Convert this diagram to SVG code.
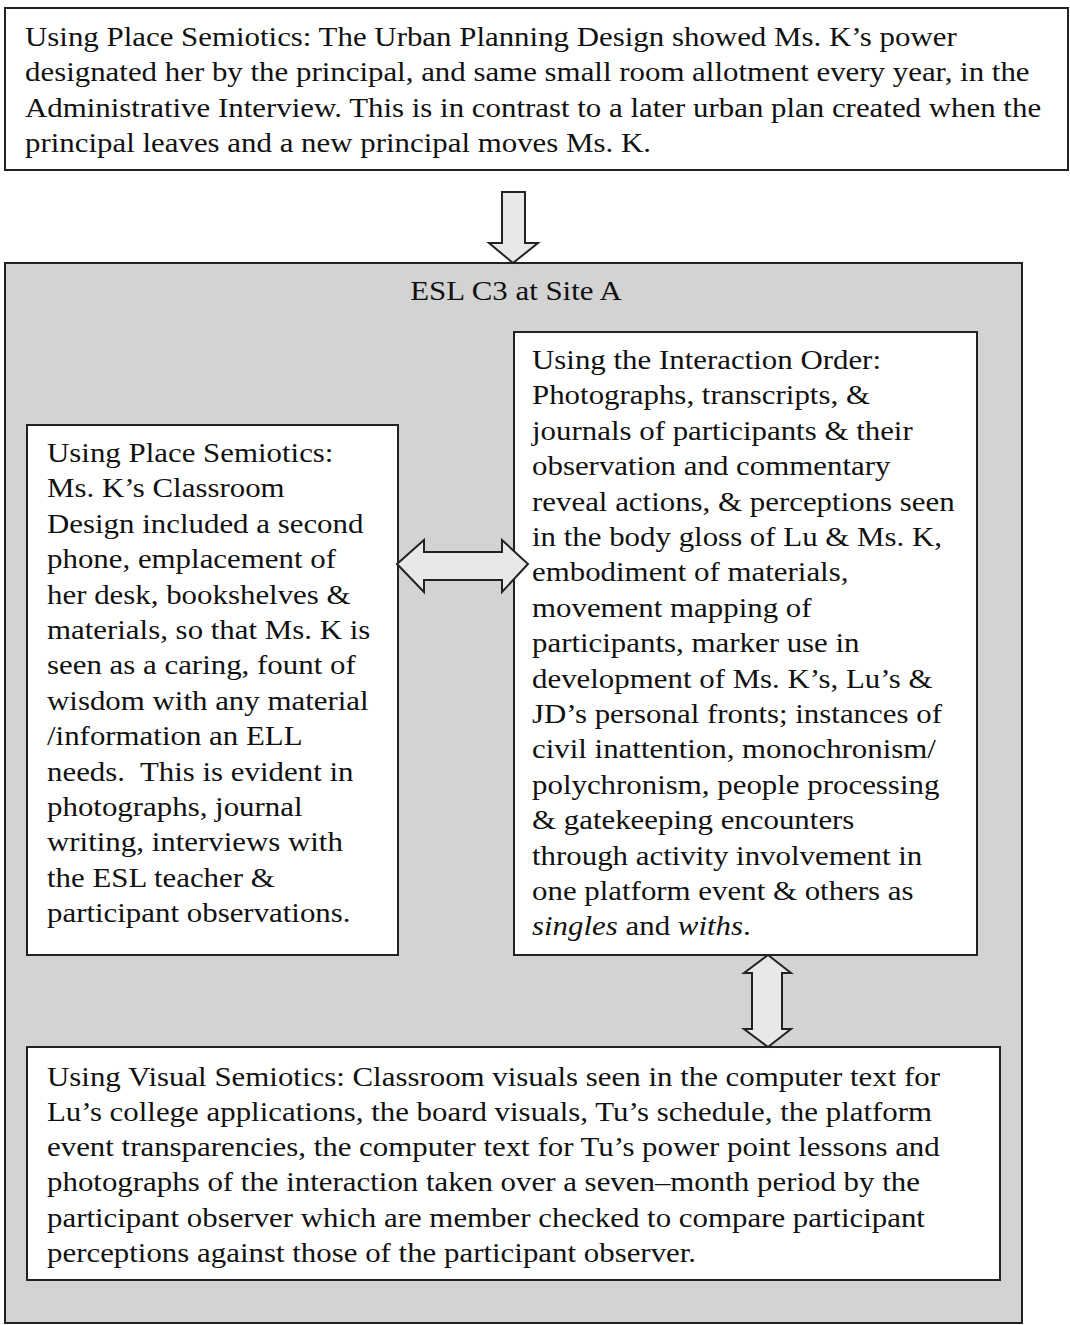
<svg xmlns="http://www.w3.org/2000/svg" width="1070" height="1325" viewBox="0 0 1070 1325">
<style>
.box{fill:#fff;stroke:#222;stroke-width:2}
.cont{fill:#d3d3d3;stroke:#222;stroke-width:2}
.arr{fill:#e8e8e8;stroke:#222;stroke-width:2;stroke-linejoin:miter}
text{font-family:"Liberation Serif","Times New Roman",serif;font-size:27px;fill:#111}
</style>
<rect width="1070" height="1325" fill="#fff"/>
<g id="top-box">
<rect class="box" x="5" y="8" width="1063" height="162"/>
<g transform="translate(25 0) scale(1.144 1)">
<text x="0" y="46">Using Place Semiotics: The Urban Planning Design showed Ms. K’s power</text>
<text x="0" y="81">designated her by the principal, and same small room allotment every year, in the</text>
<text x="0" y="117">Administrative Interview. This is in contrast to a later urban plan created when the</text>
<text x="0" y="152">principal leaves and a new principal moves Ms. K.</text>
</g>
</g>
<g id="container">
<rect class="cont" x="5" y="263" width="1017" height="1060"/>
<g transform="translate(516 0) scale(1.144 1)">
<text x="0" y="300" text-anchor="middle">ESL C3 at Site A</text>
</g>
</g>
<g id="left-box">
<rect class="box" x="27" y="425" width="371" height="530"/>
<g transform="translate(47 0) scale(1.144 1)">
<text x="0" y="462">Using Place Semiotics:</text>
<text x="0" y="497">Ms. K’s Classroom</text>
<text x="0" y="533">Design included a second</text>
<text x="0" y="568">phone, emplacement of</text>
<text x="0" y="604">her desk, bookshelves &amp;</text>
<text x="0" y="639">materials, so that Ms. K is</text>
<text x="0" y="674">seen as a caring, fount of</text>
<text x="0" y="710">wisdom with any material</text>
<text x="0" y="745">/information an ELL</text>
<text x="0" y="781" xml:space="preserve">needs.  This is evident in</text>
<text x="0" y="816">photographs, journal</text>
<text x="0" y="851">writing, interviews with</text>
<text x="0" y="887">the ESL teacher &amp;</text>
<text x="0" y="922">participant observations.</text>
</g>
</g>
<g id="right-box">
<rect class="box" x="514" y="332" width="463" height="623"/>
<g transform="translate(532 0) scale(1.144 1)">
<text x="0" y="369">Using the Interaction Order:</text>
<text x="0" y="404">Photographs, transcripts, &amp;</text>
<text x="0" y="440">journals of participants &amp; their</text>
<text x="0" y="475">observation and commentary</text>
<text x="0" y="511">reveal actions, &amp; perceptions seen</text>
<text x="0" y="546">in the body gloss of Lu &amp; Ms. K,</text>
<text x="0" y="581">embodiment of materials,</text>
<text x="0" y="617">movement mapping of</text>
<text x="0" y="652">participants, marker use in</text>
<text x="0" y="688">development of Ms. K’s, Lu’s &amp;</text>
<text x="0" y="723">JD’s personal fronts; instances of</text>
<text x="0" y="758">civil inattention, monochronism/</text>
<text x="0" y="794">polychronism, people processing</text>
<text x="0" y="829">&amp; gatekeeping encounters</text>
<text x="0" y="865">through activity involvement in</text>
<text x="0" y="900">one platform event &amp; others as</text>
<text x="0" y="935"><tspan font-style="italic">singles</tspan> and <tspan font-style="italic">withs</tspan>.</text>
</g>
</g>
<g id="bottom-box">
<rect class="box" x="27" y="1047" width="973" height="233"/>
<g transform="translate(47 0) scale(1.144 1)">
<text x="0" y="1086">Using Visual Semiotics: Classroom visuals seen in the computer text for</text>
<text x="0" y="1121">Lu’s college applications, the board visuals, Tu’s schedule, the platform</text>
<text x="0" y="1156">event transparencies, the computer text for Tu’s power point lessons and</text>
<text x="0" y="1191">photographs of the interaction taken over a seven–month period by the</text>
<text x="0" y="1227">participant observer which are member checked to compare participant</text>
<text x="0" y="1262">perceptions against those of the participant observer.</text>
</g>
</g>
<g id="connectors">
<polygon class="arr" points="502,192 525,192 525,243 538,243 513,263 489,243 502,243"/>
<polygon class="arr" points="397,564 424,540 424,552 502,552 502,540 528,564 502,592 502,580 424,580 424,592"/>
<polygon class="arr" points="768,955 791,973 782,973 782,1029 791,1029 768,1047 744,1029 752,1029 752,973 744,973"/>
</g>
</svg>
